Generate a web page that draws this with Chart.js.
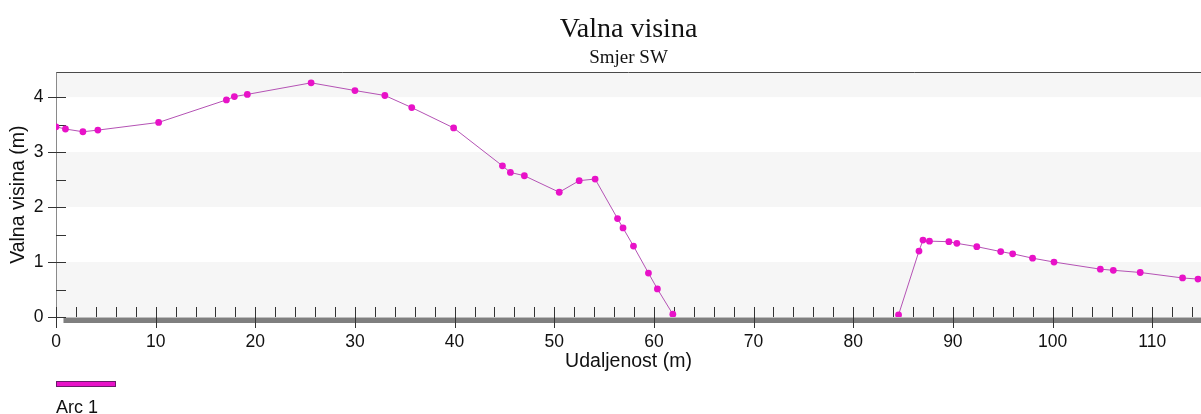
<!DOCTYPE html>
<html>
<head>
<meta charset="utf-8">
<title>Valna visina</title>
<script src="https://cdn.jsdelivr.net/npm/chart.js@4/dist/chart.umd.min.js"></script>
<style>
  html, body { margin: 0; padding: 0; background: #fff; }
  #wrap { width: 1201px; height: 414px; }
</style>
</head>
<body>
<div id="wrap"><canvas id="wave"></canvas></div>
<script>
// ── Profile data: distance along the arc (m) and wave height (m) ──
// null height = dry stretch, the line breaks there
const udaljenost = [0, 0.95, 2.7, 4.2, 10.3, 17.1, 17.9, 19.2, 25.6, 30.0,
  33.0, 35.7, 39.9, 44.8, 45.6, 47.0, 50.5, 52.5, 54.1, 56.35,
  56.9, 57.95, 59.45, 60.35, 61.9, 73, 84.55, 86.6, 87.0, 87.65,
  89.6, 90.4, 92.4, 94.8, 96.0, 98.0, 100.15, 104.8, 106.1, 108.8,
  113.05, 114.6];
const valnaVisina = [3.46, 3.42, 3.37, 3.40, 3.54, 3.95, 4.01, 4.05, 4.26, 4.12,
  4.03, 3.81, 3.44, 2.75, 2.63, 2.57, 2.27, 2.48, 2.51, 1.79,
  1.62, 1.29, 0.80, 0.51, 0.05, null, 0.04, 1.20, 1.40, 1.38,
  1.37, 1.34, 1.28, 1.19, 1.15, 1.07, 1.00, 0.87, 0.85, 0.81,
  0.71, 0.69];

// ── Axes ──
const X_MAX = 114.9;
const X_STEP = 2;          // minor tick every 2 m
const X_LABEL_EVERY = 10;  // labelled tick every 10 m
const Y_MAX = 4.45;
const Y_STEP = 0.5;
const shadedBands = [[0, 1], [2, 3], [4, Y_MAX]];
const groundFrom = 0.75;   // grey seabed strip starts here (m)

const LINE = "#b452b4";
const DOT = "#e812c8";
const SANS = "'Liberation Sans', Arial, sans-serif";
const SERIF = "'Liberation Serif', 'Times New Roman', serif";

// bands, tick marks, frame and the little legend
const profilePlot = {
  id: "profilePlot",
  beforeDatasetsDraw(chart) {
    const { ctx, chartArea: a, scales: { x, y } } = chart;
    ctx.save();

    ctx.fillStyle = "#f6f6f6";
    shadedBands.forEach(([lo, hi]) => {
      const t = y.getPixelForValue(hi), b = y.getPixelForValue(lo);
      ctx.fillRect(a.left, t, a.right - a.left, b - t);
    });

    // seabed strip under the zero line
    const y0 = Math.round(y.getPixelForValue(0));
    ctx.fillStyle = "#7f7f7f";
    ctx.fillRect(x.getPixelForValue(groundFrom), y0 + 0.5, a.right, 5.5);

    // frame: top line dark, left axis grey
    ctx.strokeStyle = "#4a4a4a";
    ctx.lineWidth = 1;
    ctx.beginPath();
    ctx.moveTo(a.left, Math.round(a.top) + 0.5);
    ctx.lineTo(a.right, Math.round(a.top) + 0.5);
    ctx.stroke();
    ctx.strokeStyle = "#8a8a8a";
    ctx.beginPath();
    ctx.moveTo(Math.round(a.left) + 0.5, a.top);
    ctx.lineTo(Math.round(a.left) + 0.5, y0);
    ctx.stroke();

    ctx.strokeStyle = "#333";
    ctx.beginPath();
    y.ticks.forEach((t) => {
      const py = Math.round(y.getPixelForValue(t.value)) + 0.5;
      const major = Number.isInteger(t.value);
      ctx.moveTo(major ? a.left - 8 : a.left, py);
      ctx.lineTo(a.left + 10, py);
    });
    x.ticks.forEach((t) => {
      const px = Math.round(x.getPixelForValue(t.value)) + 0.5;
      const major = t.value % X_LABEL_EVERY === 0;
      ctx.moveTo(px, y0 - 10);
      ctx.lineTo(px, major ? y0 + 11 : y0);
    });
    ctx.stroke();
    ctx.restore();
  },
  afterDraw(chart) {
    const { ctx, chartArea: a } = chart;
    const ds = chart.data.datasets[0];
    ctx.save();
    ctx.fillStyle = ds.pointBackgroundColor;
    ctx.strokeStyle = "#6a1a6a";
    ctx.lineWidth = 1;
    ctx.fillRect(a.left, 381, 60, 5.5);
    ctx.strokeRect(a.left + 0.5, 381.5, 59, 5);
    ctx.fillStyle = "#111";
    ctx.font = "18px " + SANS;
    ctx.textBaseline = "alphabetic";
    ctx.fillText(ds.label, a.left, 412.5);
    ctx.restore();
  },
};

new Chart(document.getElementById("wave"), {
  type: "line",
  data: {
    datasets: [
      {
        label: "Arc 1",
        data: udaljenost.map((d, i) => ({ x: d, y: valnaVisina[i] })),
        borderColor: LINE,
        borderWidth: 1,
        pointBackgroundColor: DOT,
        pointBorderColor: DOT,
        pointBorderWidth: 0,
        pointRadius: 3.4,
        spanGaps: false,
        tension: 0,
      },
    ],
  },
  options: {
    responsive: true,
    maintainAspectRatio: false,
    animation: false,
    layout: { autoPadding: false, padding: { left: 0, right: 0, top: 0, bottom: 37 } },
    plugins: {
      legend: { display: false },
      tooltip: { enabled: false },
      title: {
        display: true,
        text: "Valna visina",
        fullSize: false,
        color: "#111",
        font: { family: SERIF, size: 28, weight: "normal" },
        padding: { top: 13, bottom: 0 },
      },
      subtitle: {
        display: true,
        text: "Smjer SW",
        fullSize: false,
        color: "#111",
        font: { family: SERIF, size: 19, weight: "normal" },
        padding: { top: 0, bottom: 3 },
      },
    },
    scales: {
      x: {
        type: "linear",
        min: 0,
        max: X_MAX,
        grid: { display: false, drawTicks: false },
        border: { display: false },
        afterFit(s) {
          s.height = 60;
          s.paddingLeft = 0;
          s.paddingRight = 0;
        },
        ticks: {
          stepSize: X_STEP,
          includeBounds: false,
          autoSkip: false,
          maxRotation: 0,
          padding: 15,
          color: "#111",
          font: { family: SANS, size: 17.5 },
          callback: (v) => (v % X_LABEL_EVERY === 0 ? v : ""),
        },
        title: {
          display: true,
          text: "Udaljenost (m)",
          color: "#111",
          font: { family: SANS, size: 19.5 },
          padding: { top: 0, bottom: 4 },
        },
      },
      y: {
        type: "linear",
        min: 0,
        max: Y_MAX,
        grid: { display: false, drawTicks: false },
        border: { display: false },
        afterFit(s) { s.width = 56; },
        ticks: {
          stepSize: Y_STEP,
          includeBounds: false,
          padding: 12.5,
          color: "#111",
          font: { family: SANS, size: 17.5 },
          callback: (v) => (Number.isInteger(v) ? v : ""),
        },
        title: {
          display: true,
          text: "Valna visina (m)",
          color: "#111",
          font: { family: SANS, size: 19.5 },
          padding: { top: 6.5, bottom: 0 },
        },
      },
    },
  },
  plugins: [profilePlot],
});
</script>
</body>
</html>
